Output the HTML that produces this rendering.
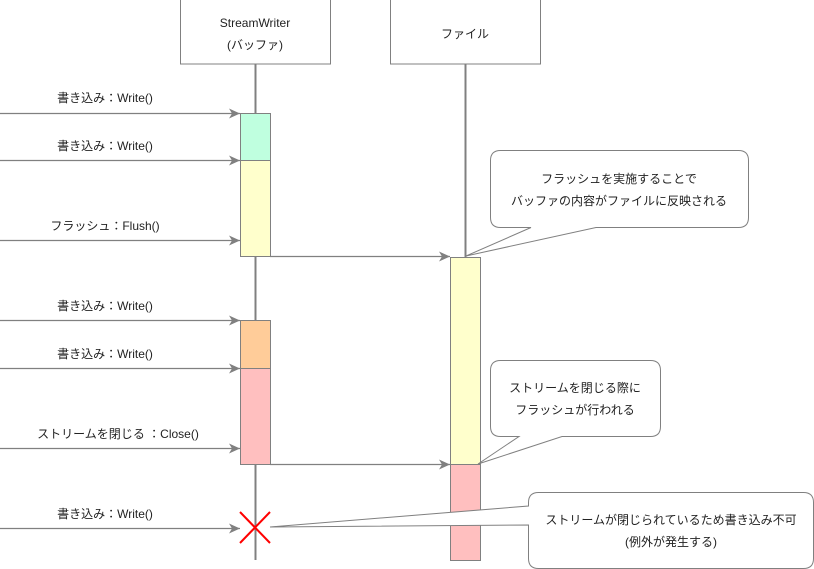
<!DOCTYPE html>
<html><head><meta charset="utf-8"><style>
html,body{margin:0;padding:0;background:#fff;}
svg{display:block;}
text{font-family:"Liberation Sans","Noto Sans CJK JP",sans-serif;font-size:12px;fill:#222;}
</style></head><body>
<svg width="814" height="569" viewBox="0 0 814 569" xmlns="http://www.w3.org/2000/svg">
<defs>
<marker id="a" markerWidth="12" markerHeight="10" refX="11" refY="5" orient="auto" markerUnits="userSpaceOnUse">
<path d="M0,0 L11,5 L0,10 L3,5 Z" fill="#808080"/>
</marker>
</defs>
<g stroke="#808080" fill="none">
<rect x="180.5" y="-1" width="150" height="65" fill="#fff"/>
<rect x="390.5" y="-1" width="150" height="65" fill="#fff"/>
<line x1="255.5" y1="64" x2="255.5" y2="560" stroke-width="2"/>
<line x1="465.5" y1="64" x2="465.5" y2="257" stroke-width="2"/>
</g>
<g stroke="#808080" stroke-width="1">
<rect x="240.5" y="113.5" width="30" height="47" fill="#bfffdf"/>
<rect x="240.5" y="160.5" width="30" height="96" fill="#ffffcc"/>
<rect x="240.5" y="320.5" width="30" height="48" fill="#ffcc99"/>
<rect x="240.5" y="368.5" width="30" height="96" fill="#ffbfbf"/>
<rect x="450.5" y="257.5" width="30" height="207" fill="#ffffcc"/>
<rect x="450.5" y="464.5" width="30" height="96" fill="#ffbfbf"/>
</g>
<g stroke="#808080" stroke-width="1.2" marker-end="url(#a)">
<line x1="0" y1="113.5" x2="240" y2="113.5"/>
<line x1="0" y1="160.5" x2="240" y2="160.5"/>
<line x1="0" y1="240.5" x2="240" y2="240.5"/>
<line x1="0" y1="320.5" x2="240" y2="320.5"/>
<line x1="0" y1="368.5" x2="240" y2="368.5"/>
<line x1="0" y1="448.5" x2="240" y2="448.5"/>
<line x1="0" y1="528.5" x2="240" y2="528.5"/>
<line x1="270" y1="256.5" x2="450" y2="256.5"/>
<line x1="270" y1="464.5" x2="450" y2="464.5"/>
</g>
<g stroke="#ff0000" stroke-width="2">
<line x1="240" y1="512" x2="270" y2="543"/>
<line x1="270" y1="512" x2="240" y2="543"/>
</g>
<g stroke="#808080" fill="#fff" stroke-width="1">
<path d="M500.5,150.5 H738.5 Q748.5,150.5 748.5,160.5 V217.5 Q748.5,227.5 738.5,227.5 H596 L466,256 L531,227.5 H500.5 Q490.5,227.5 490.5,217.5 V160.5 Q490.5,150.5 500.5,150.5 Z"/>
<path d="M500.5,360.5 H650.5 Q660.5,360.5 660.5,370.5 V426.5 Q660.5,436.5 650.5,436.5 H562 L478,464 L519,436.5 H500.5 Q490.5,436.5 490.5,426.5 V370.5 Q490.5,360.5 500.5,360.5 Z"/>
<path d="M538.5,492.5 H803.5 Q813.5,492.5 813.5,502.5 V558.5 Q813.5,568.5 803.5,568.5 H538.5 Q528.5,568.5 528.5,558.5 V525 L270,527 L528.5,506 V502.5 Q528.5,492.5 538.5,492.5 Z"/>
</g>
<g text-anchor="middle">
<text x="255" y="27">StreamWriter</text>
<text x="255" y="49">(バッファ)</text>
<text x="465" y="38">ファイル</text>
<text x="105" y="102">書き込み：Write()</text>
<text x="105" y="150">書き込み：Write()</text>
<text x="105" y="230">フラッシュ：Flush()</text>
<text x="105" y="310">書き込み：Write()</text>
<text x="105" y="358">書き込み：Write()</text>
<text x="118" y="438">ストリームを閉じる ：Close()</text>
<text x="105" y="518">書き込み：Write()</text>
<text x="619" y="183">フラッシュを実施することで</text>
<text x="619" y="205">バッファの内容がファイルに反映される</text>
<text x="575" y="392">ストリームを閉じる際に</text>
<text x="575" y="414">フラッシュが行われる</text>
<text x="671" y="524">ストリームが閉じられているため書き込み不可</text>
<text x="671" y="546">(例外が発生する)</text>
</g>
</svg>
</body></html>
